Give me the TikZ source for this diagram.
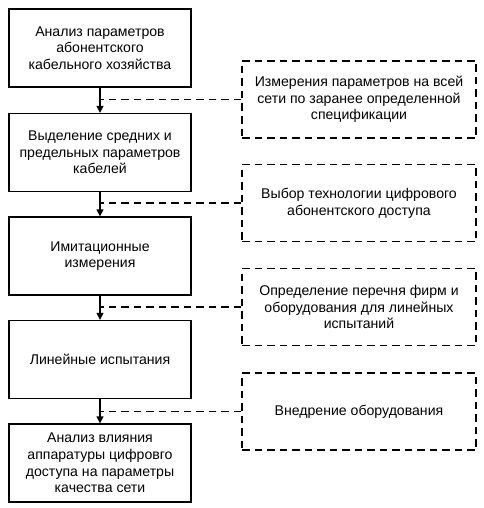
\documentclass[tikz,border=0pt]{standalone}
\usepackage{fontspec}
\setmainfont{Liberation Sans}
\usetikzlibrary{arrows.meta}
\begin{document}
\begin{tikzpicture}[x=1pt,y=-1pt,
  every node/.style={font=\fontsize{14.1}{16.6}\selectfont, align=center, inner sep=0pt},
  mainbox/.style={draw, line width=1.3pt, minimum width=182pt, minimum height=78pt},
  sidebox/.style={draw, line width=1.3pt, dash pattern=on 7.5pt off 5pt, minimum width=234pt, minimum height=77pt},
  flow/.style={line width=1.3pt, -{Triangle[length=7pt,width=7pt]}},
  link/.style={line width=1.3pt, dash pattern=on 7.5pt off 5pt}]
\useasboundingbox (0,0) rectangle (483,508);
\node[mainbox] (b1) at (100,48) {Анализ параметров\\абонентского\\кабельного хозяйства};
\node[mainbox] (b2) at (100,152.5) {Выделение средних и\\предельных параметров\\кабелей};
\node[mainbox] (b3) at (100,256) {Имитационные\\измерения};
\node[mainbox] (b4) at (100,359.5) {Линейные испытания};
\node[mainbox] (b5) at (100,463) {Анализ влияния\\аппаратуры цифровго\\доступа на параметры\\качества сети};
\node[sidebox] (r1) at (359,99.5) {Измерения параметров на всей\\сети по заранее определенной\\спецификации};
\node[sidebox] (r2) at (359,203) {Выбор технологии цифрового\\абонентского доступа};
\node[sidebox] (r3) at (359,307) {Определение перечня фирм и\\оборудования для линейных\\испытаний};
\node[sidebox] (r4) at (359,411.5) {Внедрение оборудования};
\draw[flow] (b1) -- (b2);
\draw[flow] (b2) -- (b3);
\draw[flow] (b3) -- (b4);
\draw[flow] (b4) -- (b5);
\draw[link] (r1.west) -- (r1.west -| b1.south);
\draw[link] (r2.west) -- (r2.west -| b1.south);
\draw[link] (r3.west) -- (r3.west -| b1.south);
\draw[link] (r4.west) -- (r4.west -| b1.south);
\end{tikzpicture}
\end{document}
